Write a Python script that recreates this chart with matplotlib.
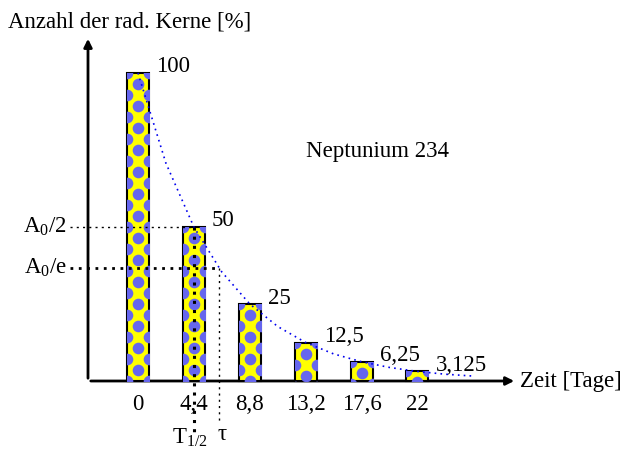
import numpy as np
import matplotlib
matplotlib.use("Agg")
import matplotlib.pyplot as plt

plt.rcParams['font.family'] = ['Liberation Serif', 'DejaVu Serif']
plt.rcParams['mathtext.fontset'] = 'custom'
plt.rcParams['mathtext.rm'] = 'Liberation Serif'

# Daten
zeiten = [0, 4.4, 8.8, 13.2, 17.6, 22]
anteile = [100, 50, 25, 12.5, 6.25, 3.125]
wert_labels = ["100", "50", "25", "12,5", "6,25", "3,125"]
tick_labels = ["0", "4,4", "8,8", "13,2", "17,6", "22"]
kurve_t = [0, 2.2, 4.4, 6.6, 8.8, 11.0, 13.2, 15.4, 17.6, 19.8, 22.0, 24.2, 26.4]
kurve_y = [100, 70.7, 50, 35.4, 25, 17.7, 12.5, 8.8, 6.25, 4.4, 3.1, 2.2, 1.6]
t_halb = 4.4
tau = 6.35
a0_e = 36.8

W, H = 625, 450
px_x, px_y = 12.7, 3.08      # Pixel pro Einheit
x0, y0 = 138, 381            # Pixel des Ursprungs

fig = plt.figure(figsize=(6.25, 4.5), dpi=100)
ax = fig.add_axes([0, 0, 1, 1])
ax.set_xlim(-x0 / px_x, (W - x0) / px_x)
ax.set_ylim(-(H - y0) / px_y, y0 / px_y)
ax.axis('off')

fs = 16.5
bw = 22 / px_x

# Achsen mit Pfeilen
x_achse = (88 - x0) / px_x
ax.annotate('', xy=(x_achse, (y0 - 36) / px_y), xytext=(x_achse, 0),
            arrowprops=dict(arrowstyle='-|>', lw=2, color='black', mutation_scale=12))
ax.annotate('', xy=((517 - x0) / px_x, 0), xytext=(x_achse, 0),
            arrowprops=dict(arrowstyle='-|>', lw=2, color='black', mutation_scale=12))

# Balken mit Punktmuster
bars = ax.bar(zeiten, anteile, width=bw, color='#ffff00', edgecolor='black', lw=1.5, zorder=3)
dx = 11 / px_x
dy = 22 / px_y
for b, t, v in zip(bars, zeiten, anteile):
    px, py = [], []
    for k in range(int(v / dy) + 2):
        px.append(t); py.append(v - 0.5 * dy - k * dy)
        px += [t - dx, t + dx]; py += [v - k * dy, v - k * dy]
    sc = ax.scatter(px, py, s=70, color='#6666ee', lw=0, zorder=4)
    sc.set_clip_path(b)

# Zerfallskurve
ax.plot(kurve_t, kurve_y, color='#0000ee', lw=1.2, ls=(0, (1, 2.5)), zorder=5)

# Hilfslinien
ax.plot([(70 - x0) / px_x, t_halb], [50, 50], color='black', lw=1, ls=(0, (1.5, 3)), zorder=5)
ax.plot([(70 - x0) / px_x, tau], [a0_e, a0_e], color='black', lw=2, ls=(0, (1, 2)), zorder=5)
ax.plot([t_halb, t_halb], [50, -(432 - y0) / px_y], color='black', lw=2.2, ls=(0, (1, 2)), zorder=5)
ax.plot([tau, tau], [a0_e, -(422 - y0) / px_y], color='black', lw=1, ls=(0, (1.5, 3)), zorder=5)

# Wertbeschriftungen
for t, v, s in zip(zeiten, anteile, wert_labels):
    ax.annotate(s, xy=(t + bw / 2, v), xytext=(7, 6), textcoords='offset pixels',
                ha='left', va='center', fontsize=fs)

for t, s in zip(zeiten, tick_labels):
    ax.text(t, -(405 - y0) / px_y, s, ha='center', va='center', fontsize=fs)

ax.text((67 - x0) / px_x, 50, r'A$_\mathrm{0}$/2', ha='right', va='center', fontsize=fs)
ax.text((67 - x0) / px_x, a0_e, r'A$_\mathrm{0}$/e', ha='right', va='center', fontsize=fs)
ax.text(t_halb - 0.3, -(438 - y0) / px_y, r'T$_\mathrm{1/2}$', ha='center', va='center', fontsize=fs)
ax.text(tau + 0.3, -(434 - y0) / px_y, 'τ', ha='center', va='center', fontsize=fs)

ax.text((378 - x0) / px_x, (y0 - 151) / px_y, 'Neptunium 234', ha='center', va='center', fontsize=fs)
ax.text((520 - x0) / px_x, 0, 'Zeit [Tage]', ha='left', va='center', fontsize=fs)
fig.text(8 / W, 1 - 22 / H, 'Anzahl der rad. Kerne [%]', ha='left', va='center', fontsize=fs)

fig.savefig('out.png', dpi=100)
